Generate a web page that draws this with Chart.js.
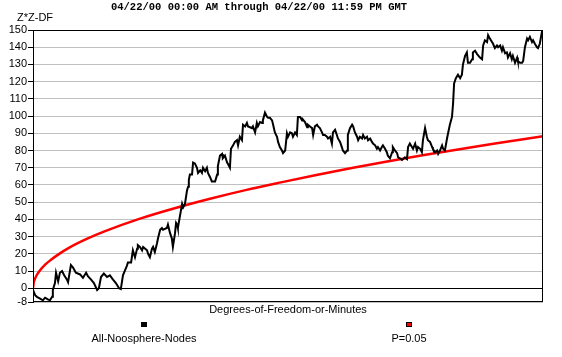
<!DOCTYPE html>
<html><head><meta charset="utf-8">
<script src="https://cdn.jsdelivr.net/npm/chart.js@4"></script>
<style>html,body{margin:0;padding:0;background:#fff}</style>
</head><body>
<canvas id="c" width="562" height="357"></canvas>
<script>
const chartTitle = "04/22/00 00:00 AM through 04/22/00 11:59 PM GMT";
const yAxisTitle = "Z*Z-DF";
const xAxisTitle = "Degrees-of-Freedom-or-Minutes";
const seriesNames = ["All-Noosphere-Nodes", "P=0.05"];
const yTicks = [150, 140, 130, 120, 110, 100, 90, 80, 70, 60, 50, 40, 30, 20, 10, 0, -8];

const nodeMinutes = [0,6,11,20,28,34,42,48,54,56,59,62,65,71,76,82,88,96,99,107,113,121,133,141,150,155,164,172,181,186,192,200,209,217,226,234,243,248,254,265,268,277,282,288,294,296,302,308,311,322,325,330,336,339,344,350,353,359,364,367,378,381,387,392,395,401,404,407,409,415,421,424,429,435,438,440,443,449,452,457,463,466,472,477,480,486,491,494,500,505,508,514,520,522,528,534,536,542,548,551,556,559,565,570,576,579,584,590,593,599,604,607,613,618,621,627,632,635,641,647,649,655,661,664,669,675,678,683,689,692,697,703,706,712,717,720,726,731,734,740,745,748,754,760,762,768,774,776,782,788,791,796,802,805,810,816,819,824,830,833,839,844,847,853,858,861,867,872,875,881,887,889,895,901,904,909,915,918,923,929,932,937,943,946,952,957,960,966,971,974,980,985,988,994,999,1002,1008,1014,1016,1022,1028,1031,1036,1042,1045,1050,1056,1059,1064,1070,1073,1079,1084,1087,1093,1098,1101,1107,1112,1115,1121,1127,1129,1135,1141,1144,1149,1155,1158,1163,1169,1172,1177,1183,1186,1189,1194,1200,1206,1211,1214,1220,1225,1228,1234,1240,1242,1248,1254,1262,1268,1271,1276,1282,1285,1290,1296,1299,1304,1310,1313,1319,1324,1327,1333,1338,1341,1347,1352,1355,1361,1367,1369,1375,1381,1384,1389,1395,1398,1403,1409,1412,1417,1423,1426,1431,1437,1440];
const nodeValues = [-1,-4,-5,-6,-7,-5.5,-6.5,-7,-5,-1,1,3,9,4,9,10,7.5,5,3.5,13.5,12,9,8,6,9,7,5,3,-1,0,6.5,8.5,6.5,7.5,5,3,0,-0.5,7.5,13,15,15,22,18,23,25,24,22,24,22,20,18,23,24,21,26,29,34,35,34,35,37,32,29,24,32,38,37,35,42,49,47,49,57,59,63,66,66,73,72.5,70,67,68.5,67,70,68,70,67,64.5,62,62,62,66,71,77,78,75.5,77,73,72,70,81,83,85,86,83,88,86,95,94,96,94,93.5,93,94,90.5,96,94,96.5,96,97.5,102,99.5,99,99,97.5,95,90.5,88,85,82,80,78.5,80,90,88,90.5,90,88,90.5,89,99.5,99.5,97.5,98,96.5,93.5,95,94,93,89,94,95,94,93,90.5,89,89,88,87,88,84,90.5,92,89,87,85,82,80,78.5,80,89,93,95,94,90.5,88,86,88,87,89,87,88,86,87,85,84,83,81,82,80,82,83,81,79,77,75.5,79,82,80,78.5,76,75.5,74.5,75,76,75,82,84,82,81,84,80,82,81,79,86,93,88,86,85,82,81,79,80,78,80,83,81,80,87,90,95,99.5,107,119,122,124,122,124,130,135,137,131,131,133,137,138,136,134,133,141,144,143,147,145,143,142,139.5,141,140,141,138,140,136.5,137,134,136.5,133,135,131,134,132,131,131,132,140,145,144,146,143,144,142,140,139.5,142,149,149];

const pMinutes = [0,2,5,10,20,35,50,75,100,150,200,300,400,500,600,700,800,900,1000,1100,1200,1300,1440];
const pValues = [0,3.3,5.2,7.4,10.4,13.8,16.4,20.1,23.3,28.5,32.9,40.3,46.5,52,57,61.5,65.8,69.8,73.6,77.2,80.6,83.9,88.3];

const SANS = '"Liberation Sans", Arial, sans-serif';

const decor = {
  id: 'decor',
  afterDraw(chart) {
    const c = chart.ctx, a = chart.chartArea;
    c.save();
    c.strokeStyle = '#000';
    c.lineWidth = 1;
    c.strokeRect(Math.round(a.left) + 0.5, Math.round(a.top) + 0.5, Math.round(a.right - a.left) - 1, Math.round(a.bottom - a.top) - 1);
    c.fillStyle = '#000';
    c.textBaseline = 'middle';
    c.textAlign = 'center';
    c.font = 'bold 10.5px "Liberation Mono", "Courier New", monospace';
    c.fillText(chartTitle, 259, 7.5);
    c.font = '11px ' + SANS;
    c.textAlign = 'left';
    c.fillText(yAxisTitle, 17, 17.5);
    c.textAlign = 'center';
    c.fillText(xAxisTitle, (a.left + a.right) / 2, 309.5);
    // legend
    const items = [
      { cx: 144, color: '#000' },
      { cx: 409, color: '#ff0000' }
    ];
    items.forEach((it, i) => {
      c.fillStyle = it.color;
      c.fillRect(it.cx - 3, 322, 6, 5);
      c.strokeStyle = '#000';
      c.strokeRect(it.cx - 3 + 0.5, 322 + 0.5, 5, 4);
      c.fillStyle = '#000';
      c.fillText(seriesNames[i], it.cx, 339);
    });
    c.restore();
  }
};

new Chart(document.getElementById('c'), {
  type: 'line',
  data: {
    datasets: [
      {
        label: seriesNames[0],
        data: nodeMinutes.map((m, i) => ({ x: m, y: nodeValues[i] })),
        borderColor: '#000',
        borderWidth: 2,
        pointRadius: 0,
        tension: 0,
        fill: false,
        order: 1
      },
      {
        label: seriesNames[1],
        data: pMinutes.map((m, i) => ({ x: m, y: pValues[i] })),
        borderColor: '#ff0000',
        borderWidth: 2.5,
        pointRadius: 0,
        cubicInterpolationMode: 'monotone',
        fill: false,
        order: 2
      }
    ]
  },
  options: {
    responsive: false,
    animation: false,
    devicePixelRatio: 1,
    layout: { padding: { left: 0, right: 19, top: 30, bottom: 0 } },
    plugins: { legend: { display: false }, title: { display: false }, tooltip: { enabled: false } },
    scales: {
      x: {
        type: 'linear', min: 0, max: 1440,
        ticks: { display: false },
        grid: { display: false },
        border: { display: false },
        afterFit(s) { s.height = 55; }
      },
      y: {
        min: -8, max: 150,
        afterBuildTicks(s) { s.ticks = yTicks.map(v => ({ value: v })); },
        afterFit(s) { s.width = 33; },
        ticks: { color: '#000', font: { family: SANS, size: 11 }, padding: 1, autoSkip: false },
        grid: {
          color: ctx => (ctx.tick && ctx.tick.value === 0) ? '#000' : '#c0c0c0',
          tickColor: '#000',
          tickLength: 5,
          lineWidth: 1
        },
        border: { display: true, color: '#000' }
      }
    }
  },
  plugins: [decor]
});
</script>
</body></html>
